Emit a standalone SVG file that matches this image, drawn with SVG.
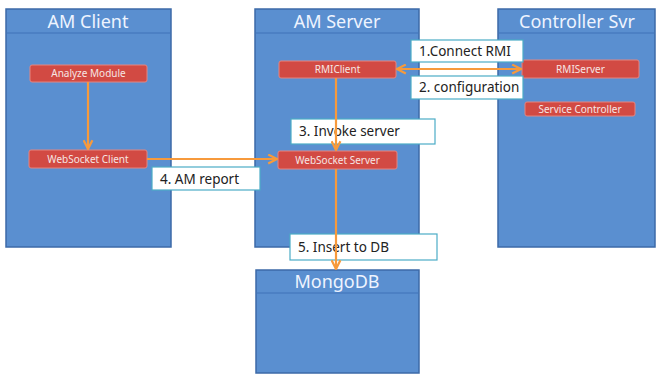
<svg xmlns="http://www.w3.org/2000/svg" width="659" height="374" viewBox="0 0 659 374">
<defs>
<style>
.cont{fill:#5a8fd0;stroke:#3d6aa8;stroke-width:1.5}
.hdr{stroke:#3f73b8;stroke-width:1.2}
.title{font-family:"Noto Sans","Open Sans",sans-serif;font-size:18px;fill:#eef4ff;text-anchor:middle}
.mod{fill:#d24a43;stroke:#e58580;stroke-width:1}
.mtxt{font-family:"Noto Sans","Open Sans",sans-serif;font-size:10px;fill:#f6e6e4;text-anchor:middle}
.lbl{fill:#ffffff;stroke:#4bacc6;stroke-width:1.2}
.ltxt{font-family:"Noto Sans","Open Sans",sans-serif;font-size:13.5px;fill:#222222}
.conn{stroke:#f79a3c;stroke-width:2.2;fill:none}
</style>
<marker id="ah" viewBox="0 0 10 10" refX="9" refY="5" markerWidth="5" markerHeight="5" orient="auto-start-reverse" markerUnits="strokeWidth">
<path d="M1,1 L9,5 L1,9" fill="none" stroke="#f79a3c" stroke-width="2"/>
</marker>
</defs>
<rect width="659" height="374" fill="#ffffff"/>

<g id="am-client">
<rect class="cont" x="6" y="9" width="165" height="238"/>
<line class="hdr" x1="7" y1="33" x2="170" y2="33"/>
<text class="title" x="88" y="28">AM Client</text>
</g>
<g id="am-server">
<rect class="cont" x="255" y="9" width="164" height="238"/>
<line class="hdr" x1="256" y1="33" x2="418" y2="33"/>
<text class="title" x="337" y="28">AM Server</text>
</g>
<g id="controller-svr">
<rect class="cont" x="498" y="9" width="157" height="238"/>
<line class="hdr" x1="499" y1="33" x2="654" y2="33"/>
<text class="title" x="577" y="28">Controller Svr</text>
</g>
<g id="mongodb">
<rect class="cont" x="256" y="270" width="163" height="103"/>
<line class="hdr" x1="257" y1="293" x2="418" y2="293"/>
<text class="title" x="337" y="288">MongoDB</text>
</g>

<g id="analyze-module">
<rect class="mod" x="30" y="65" width="117" height="17" rx="2"/>
<text class="mtxt" x="88.5" y="77">Analyze Module</text>
</g>
<g id="websocket-client">
<rect class="mod" x="29" y="150" width="118" height="18" rx="2"/>
<text class="mtxt" x="88" y="162.5">WebSocket Client</text>
</g>
<g id="rmiclient">
<rect class="mod" x="279" y="61" width="117" height="17" rx="2"/>
<text class="mtxt" x="337.5" y="73">RMIClient</text>
</g>
<g id="websocket-server">
<rect class="mod" x="278" y="151" width="119" height="18" rx="2"/>
<text class="mtxt" x="337.5" y="163.5">WebSocket Server</text>
</g>
<g id="rmiserver">
<rect class="mod" x="522" y="60" width="117" height="18" rx="2"/>
<text class="mtxt" x="580.5" y="72.5">RMIServer</text>
</g>
<g id="service-controller">
<rect class="mod" x="525" y="102" width="110" height="14" rx="2"/>
<text class="mtxt" x="580" y="112.5">Service Controller</text>
</g>

<g id="labels">
<rect class="lbl" x="411" y="40" width="112" height="22"/>
<text class="ltxt" x="419" y="56">1.Connect RMI</text>
<rect class="lbl" x="411" y="76" width="112" height="23"/>
<text class="ltxt" x="419" y="92">2. configuration</text>
<rect class="lbl" x="291" y="119" width="144" height="25"/>
<text class="ltxt" x="299" y="136">3. Invoke server</text>
<rect class="lbl" x="152" y="167" width="108" height="23"/>
<text class="ltxt" x="160" y="184">4. AM report</text>
<rect class="lbl" x="290" y="234" width="147" height="26"/>
<text class="ltxt" x="298" y="252">5. Insert to DB</text>
</g>

<g id="connectors">
<line class="conn" x1="88" y1="82" x2="88" y2="149" marker-end="url(#ah)"/>
<line class="conn" x1="147" y1="159" x2="277" y2="159" marker-end="url(#ah)"/>
<line class="conn" x1="397" y1="69" x2="521" y2="69" marker-start="url(#ah)" marker-end="url(#ah)"/>
<line class="conn" x1="336" y1="78" x2="336" y2="150" marker-end="url(#ah)"/>
<line class="conn" x1="336" y1="169" x2="336" y2="269" marker-end="url(#ah)"/>
</g>
</svg>
